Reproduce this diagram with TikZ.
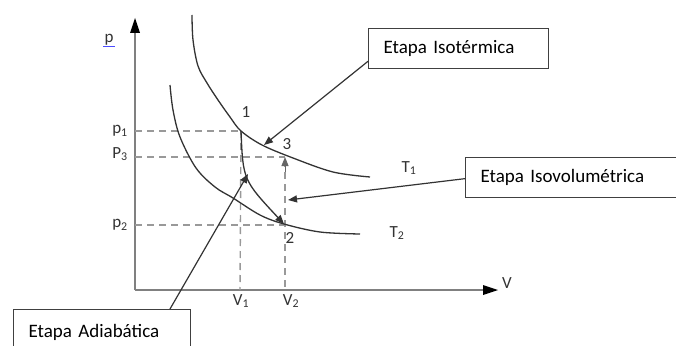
\documentclass[tikz,border=0pt]{standalone}
\usepackage{fontspec}
\setmainfont{Carlito}
\usetikzlibrary{arrows.meta}
\begin{document}
\begin{tikzpicture}[x=1pt,y=-1pt,
  curve/.style={draw=black!80, line width=1.3pt},
  axisline/.style={draw=black!50, line width=2.4pt},
  guide/.style={draw=black!40, line width=1.4pt, dash pattern=on 7pt off 5pt},
  pointer/.style={draw=black!80, line width=1.2pt, -{Triangle[length=9pt,width=7pt]}},
  stagebox/.style={draw=black!75, line width=1.3pt, inner xsep=15pt, align=left, font=\fontsize{19}{22}\selectfont},
  lbl/.style={font=\fontsize{17}{19}\selectfont, text=black!80, inner sep=0pt}
]
\useasboundingbox (0,0) rectangle (676,345);
\clip (0,0) rectangle (676,345);
\fill[white] (0,0) rectangle (676,345);

% axes
\coordinate (O) at (135,290);
\coordinate (ytop) at (135,18);
\coordinate (xend) at (498,290);
\draw[axisline] (O) -- (135,30);
\draw[axisline] (O) -- (486,290);
\fill[black] (ytop) -- (130,33) -- (140,33) -- cycle;
\fill[black] (xend) -- (483,285) -- (483,295) -- cycle;

% state points
\coordinate (P1) at (241,131);
\coordinate (P2) at (284,224);
\coordinate (P3) at (285,157);

% guides
\draw[guide] (135,131) -- (P1);
\draw[guide] (135,157) -- (285,157);
\draw[guide] (135,225) -- (284,225);
\draw[guide] (P1) -- (240,290);
\draw[guide] (285,160) -- (285,290);

% isotherms
\draw[curve] plot[smooth, tension=0.55] coordinates {(192,15) (193,40) (198,66) (207,83) (218,100) (230,117) (241,131) (262,145) (293,158) (333,172) (370,177)};
\draw[curve] plot[smooth, tension=0.55] coordinates {(170,85) (173,110) (180,137) (196,168) (215,187) (233,198) (260,215) (284,224) (320,232) (360,234)};

% adiabat
\draw[curve, -{Triangle[length=9pt,width=7pt]}] (P1) .. controls (243,180) .. (P2);
% isochoric arrow
\draw[line width=1pt, black!60, -{Triangle[length=9pt,width=7pt]}] (285,172) -- (P3);

% labels
\node[lbl] (lp) at (109,40) {p};
\draw[blue!70, line width=1pt] (103,47) -- (115,47);
\node[lbl] (lp1) at (120,131) {p\textsubscript{1}};
\node[lbl] (lp3) at (120,154) {P\textsubscript{3}};
\node[lbl] (lp2) at (120,225) {p\textsubscript{2}};
\node[lbl] (lv1) at (241,301) {V\textsubscript{1}};
\node[lbl] (lv2) at (291,301) {V\textsubscript{2}};
\node[lbl] (lv) at (507,283) {V};
\node[lbl] (n1) at (246,112) {1};
\node[lbl] (n3) at (287,144) {3};
\node[lbl] (n2) at (290,238) {2};
\node[lbl] (t1) at (409,168) {T\textsubscript{1}};
\node[lbl] (t2) at (397,233) {T\textsubscript{2}};

% boxes
\node[stagebox, anchor=north west, text width=150pt, minimum height=40pt] (iso) at (368,28) {Etapa Isotérmica};
\node[stagebox, anchor=north west, text width=205pt, minimum height=40pt] (isov) at (465,157) {Etapa Isovolumétrica};
\node[stagebox, anchor=north west, text width=147pt, minimum height=46pt] (adia) at (13,309) {Etapa Adiabática};

% pointers
\coordinate (aiso) at (264,145);
\coordinate (aisov) at (288,200);
\coordinate (aadia) at (248,174);
\draw[pointer] ([yshift=8pt]iso.south west) -- (aiso);
\draw[pointer] ([yshift=-1pt]isov.west) -- (aisov);
\draw[pointer] (adia.north west) ++(157,0) coordinate (adst) -- (aadia);
\end{tikzpicture}
\end{document}
